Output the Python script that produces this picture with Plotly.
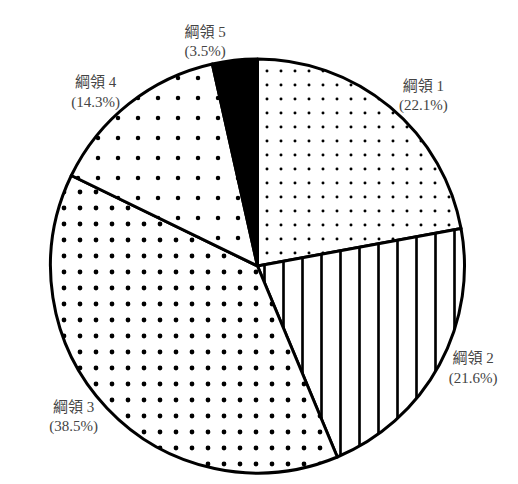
import plotly.graph_objects as go

labels = ["綱領 1", "綱領 2", "綱領 3", "綱領 4", "綱領 5"]
values = [22.1, 21.6, 38.5, 14.3, 3.5]
text_labels = ["綱領 1<br>(22.1%)", "綱領 2<br>(21.6%)", "綱領 3<br>(38.5%)", "綱領 4<br>(14.3%)", "綱領 5<br>(3.5%)"]

fig = go.Figure(go.Pie(
    labels=labels,
    values=values,
    text=text_labels,
    textinfo="text",
    textposition="outside",
    sort=False,
    direction="clockwise",
    rotation=0,
    marker=dict(
        colors=["white", "white", "white", "white", "black"],
        line=dict(color="black", width=3),
        pattern=dict(
            shape=[".", "|", ".", ".", ""],
            fgcolor="black",
            bgcolor=["white", "white", "white", "white", "black"],
            size=[14, 19, 16, 20, 8],
            solidity=[0.035, 0.14, 0.07, 0.04, 0.5],
        ),
    ),
    outsidetextfont=dict(family="Liberation Serif, Noto Sans CJK TC", size=15, color="#444"),
    showlegend=False,
    hoverinfo="skip",
))

fig.update_layout(
    width=518, height=484,
    margin=dict(l=30, r=40, t=51, b=19),
    paper_bgcolor="white",
    plot_bgcolor="white",
)

fig.write_html("out.html")
